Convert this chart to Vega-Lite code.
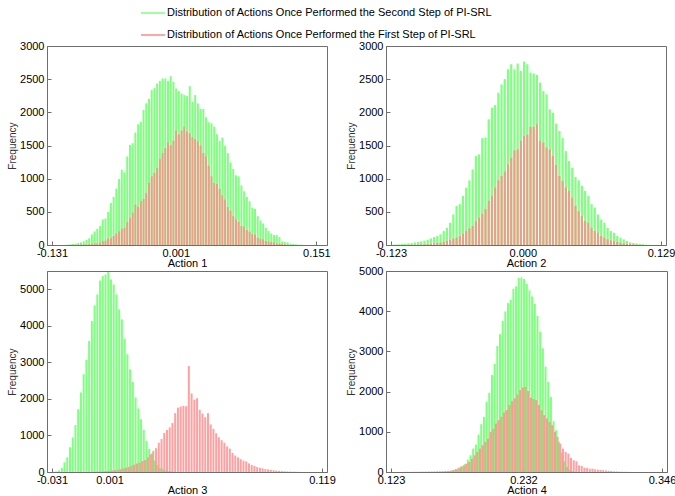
{
"$schema": "https://vega.github.io/schema/vega-lite/v6.json",
"background": "white",
"padding": {"left": 7, "top": 0, "right": 0, "bottom": 0},
"autosize": {"type": "pad"},
"datasets": {
"p1g": [{"x":-0.11456,"n":5},{"x":-0.11166,"n":10},{"x":-0.10876,"n":15},{"x":-0.10586,"n":20},{"x":-0.10296,"n":30},{"x":-0.10006,"n":40},{"x":-0.09716,"n":55},{"x":-0.09426,"n":75},{"x":-0.09136,"n":100},{"x":-0.08846,"n":160},{"x":-0.08556,"n":205},{"x":-0.08266,"n":245},{"x":-0.07976,"n":285},{"x":-0.07686,"n":385},{"x":-0.07396,"n":400},{"x":-0.07106,"n":500},{"x":-0.06816,"n":635},{"x":-0.06526,"n":725},{"x":-0.06236,"n":850},{"x":-0.05946,"n":995},{"x":-0.05656,"n":1135},{"x":-0.05366,"n":1095},{"x":-0.05076,"n":1335},{"x":-0.04786,"n":1510},{"x":-0.04496,"n":1535},{"x":-0.04206,"n":1695},{"x":-0.03916,"n":1820},{"x":-0.03626,"n":1855},{"x":-0.03336,"n":2035},{"x":-0.03046,"n":2135},{"x":-0.02756,"n":2205},{"x":-0.02466,"n":2335},{"x":-0.02176,"n":2365},{"x":-0.01886,"n":2435},{"x":-0.01596,"n":2475},{"x":-0.01306,"n":2510},{"x":-0.01016,"n":2510},{"x":-0.00726,"n":2475},{"x":-0.00436,"n":2545},{"x":-0.00146,"n":2460},{"x":0.00144,"n":2360},{"x":0.00434,"n":2320},{"x":0.00724,"n":2285},{"x":0.01014,"n":2260},{"x":0.01304,"n":2245},{"x":0.01594,"n":2395},{"x":0.01884,"n":2160},{"x":0.02174,"n":2260},{"x":0.02464,"n":2135},{"x":0.02754,"n":2050},{"x":0.03044,"n":2050},{"x":0.03334,"n":1925},{"x":0.03624,"n":1850},{"x":0.03914,"n":1835},{"x":0.04204,"n":1785},{"x":0.04494,"n":1670},{"x":0.04784,"n":1570},{"x":0.05074,"n":1620},{"x":0.05364,"n":1495},{"x":0.05654,"n":1385},{"x":0.05944,"n":1245},{"x":0.06234,"n":1145},{"x":0.06524,"n":1050},{"x":0.06814,"n":1035},{"x":0.07104,"n":900},{"x":0.07394,"n":810},{"x":0.07684,"n":725},{"x":0.07974,"n":660},{"x":0.08264,"n":560},{"x":0.08554,"n":545},{"x":0.08844,"n":435},{"x":0.09134,"n":370},{"x":0.09424,"n":325},{"x":0.09714,"n":260},{"x":0.10004,"n":210},{"x":0.10294,"n":175},{"x":0.10584,"n":150},{"x":0.10874,"n":150},{"x":0.11164,"n":120},{"x":0.11454,"n":55},{"x":0.11744,"n":45},{"x":0.12034,"n":40},{"x":0.12324,"n":20},{"x":0.12614,"n":15},{"x":0.12904,"n":10},{"x":0.13194,"n":5},{"x":0.13484,"n":5},{"x":0.13774,"n":2}],
"p1r": [{"x":-0.10586,"n":3},{"x":-0.10296,"n":5},{"x":-0.10006,"n":5},{"x":-0.09716,"n":8},{"x":-0.09426,"n":8},{"x":-0.09136,"n":10},{"x":-0.08846,"n":15},{"x":-0.08556,"n":25},{"x":-0.08266,"n":25},{"x":-0.07976,"n":35},{"x":-0.07686,"n":60},{"x":-0.07396,"n":65},{"x":-0.07106,"n":100},{"x":-0.06816,"n":105},{"x":-0.06526,"n":135},{"x":-0.06236,"n":175},{"x":-0.05946,"n":205},{"x":-0.05656,"n":245},{"x":-0.05366,"n":260},{"x":-0.05076,"n":345},{"x":-0.04786,"n":405},{"x":-0.04496,"n":485},{"x":-0.04206,"n":610},{"x":-0.03916,"n":575},{"x":-0.03626,"n":660},{"x":-0.03336,"n":695},{"x":-0.03046,"n":785},{"x":-0.02756,"n":935},{"x":-0.02466,"n":1035},{"x":-0.02176,"n":1085},{"x":-0.01886,"n":1160},{"x":-0.01596,"n":1295},{"x":-0.01306,"n":1385},{"x":-0.01016,"n":1460},{"x":-0.00726,"n":1545},{"x":-0.00436,"n":1505},{"x":-0.00146,"n":1575},{"x":0.00144,"n":1725},{"x":0.00434,"n":1665},{"x":0.00724,"n":1725},{"x":0.01014,"n":1785},{"x":0.01304,"n":1710},{"x":0.01594,"n":1685},{"x":0.01884,"n":1625},{"x":0.02174,"n":1595},{"x":0.02464,"n":1560},{"x":0.02754,"n":1500},{"x":0.03044,"n":1385},{"x":0.03334,"n":1335},{"x":0.03624,"n":1195},{"x":0.03914,"n":1035},{"x":0.04204,"n":935},{"x":0.04494,"n":920},{"x":0.04784,"n":845},{"x":0.05074,"n":750},{"x":0.05364,"n":685},{"x":0.05654,"n":570},{"x":0.05944,"n":520},{"x":0.06234,"n":435},{"x":0.06524,"n":385},{"x":0.06814,"n":350},{"x":0.07104,"n":285},{"x":0.07394,"n":275},{"x":0.07684,"n":225},{"x":0.07974,"n":200},{"x":0.08264,"n":165},{"x":0.08554,"n":155},{"x":0.08844,"n":110},{"x":0.09134,"n":95},{"x":0.09424,"n":85},{"x":0.09714,"n":60},{"x":0.10004,"n":50},{"x":0.10294,"n":45},{"x":0.10584,"n":35},{"x":0.10874,"n":25},{"x":0.11164,"n":20},{"x":0.11454,"n":15},{"x":0.11744,"n":10},{"x":0.12034,"n":5}],
"p2g": [{"x":-0.1218,"n":5},{"x":-0.1188,"n":8},{"x":-0.1158,"n":10},{"x":-0.1128,"n":15},{"x":-0.1098,"n":20},{"x":-0.1068,"n":25},{"x":-0.1038,"n":30},{"x":-0.1008,"n":40},{"x":-0.0978,"n":45},{"x":-0.0948,"n":55},{"x":-0.0918,"n":65},{"x":-0.0888,"n":80},{"x":-0.0858,"n":100},{"x":-0.0828,"n":120},{"x":-0.0798,"n":135},{"x":-0.0768,"n":160},{"x":-0.0738,"n":210},{"x":-0.0708,"n":260},{"x":-0.0678,"n":335},{"x":-0.0648,"n":460},{"x":-0.0618,"n":590},{"x":-0.0588,"n":615},{"x":-0.0558,"n":740},{"x":-0.0528,"n":865},{"x":-0.0498,"n":975},{"x":-0.0468,"n":1140},{"x":-0.0438,"n":1340},{"x":-0.0408,"n":1365},{"x":-0.0378,"n":1610},{"x":-0.0348,"n":1620},{"x":-0.0318,"n":1895},{"x":-0.0288,"n":2070},{"x":-0.0258,"n":2110},{"x":-0.0228,"n":2295},{"x":-0.0198,"n":2420},{"x":-0.0168,"n":2500},{"x":-0.0138,"n":2650},{"x":-0.0108,"n":2725},{"x":-0.0078,"n":2650},{"x":-0.0048,"n":2735},{"x":-0.0018,"n":2625},{"x":0.0012,"n":2765},{"x":0.0042,"n":2725},{"x":0.0072,"n":2600},{"x":0.0102,"n":2585},{"x":0.0132,"n":2565},{"x":0.0162,"n":2450},{"x":0.0192,"n":2320},{"x":0.0222,"n":2270},{"x":0.0252,"n":2045},{"x":0.0282,"n":1995},{"x":0.0312,"n":1830},{"x":0.0342,"n":1720},{"x":0.0372,"n":1610},{"x":0.0402,"n":1415},{"x":0.0432,"n":1265},{"x":0.0462,"n":1165},{"x":0.0492,"n":1025},{"x":0.0522,"n":975},{"x":0.0552,"n":890},{"x":0.0582,"n":815},{"x":0.0612,"n":740},{"x":0.0642,"n":615},{"x":0.0672,"n":565},{"x":0.0702,"n":460},{"x":0.0732,"n":385},{"x":0.0762,"n":335},{"x":0.0792,"n":260},{"x":0.0822,"n":210},{"x":0.0852,"n":185},{"x":0.0882,"n":135},{"x":0.0912,"n":110},{"x":0.0942,"n":85},{"x":0.0972,"n":60},{"x":0.1002,"n":40},{"x":0.1032,"n":30},{"x":0.1062,"n":25},{"x":0.1092,"n":15},{"x":0.1122,"n":10},{"x":0.1152,"n":5},{"x":0.1182,"n":3}],
"p2r": [{"x":-0.1068,"n":3},{"x":-0.1038,"n":3},{"x":-0.1008,"n":5},{"x":-0.0978,"n":5},{"x":-0.0948,"n":8},{"x":-0.0918,"n":10},{"x":-0.0888,"n":12},{"x":-0.0858,"n":15},{"x":-0.0828,"n":20},{"x":-0.0798,"n":30},{"x":-0.0768,"n":35},{"x":-0.0738,"n":45},{"x":-0.0708,"n":60},{"x":-0.0678,"n":75},{"x":-0.0648,"n":95},{"x":-0.0618,"n":110},{"x":-0.0588,"n":135},{"x":-0.0558,"n":170},{"x":-0.0528,"n":210},{"x":-0.0498,"n":250},{"x":-0.0468,"n":285},{"x":-0.0438,"n":360},{"x":-0.0408,"n":410},{"x":-0.0378,"n":470},{"x":-0.0348,"n":540},{"x":-0.0318,"n":665},{"x":-0.0288,"n":740},{"x":-0.0258,"n":865},{"x":-0.0228,"n":975},{"x":-0.0198,"n":1040},{"x":-0.0168,"n":1105},{"x":-0.0138,"n":1215},{"x":-0.0108,"n":1315},{"x":-0.0078,"n":1425},{"x":-0.0048,"n":1440},{"x":-0.0018,"n":1570},{"x":0.0012,"n":1645},{"x":0.0042,"n":1660},{"x":0.0072,"n":1780},{"x":0.0102,"n":1780},{"x":0.0132,"n":1820},{"x":0.0162,"n":1570},{"x":0.0192,"n":1545},{"x":0.0222,"n":1470},{"x":0.0252,"n":1440},{"x":0.0282,"n":1340},{"x":0.0312,"n":1205},{"x":0.0342,"n":1040},{"x":0.0372,"n":965},{"x":0.0402,"n":865},{"x":0.0432,"n":815},{"x":0.0462,"n":715},{"x":0.0492,"n":590},{"x":0.0522,"n":510},{"x":0.0552,"n":435},{"x":0.0582,"n":360},{"x":0.0612,"n":335},{"x":0.0642,"n":260},{"x":0.0672,"n":210},{"x":0.0702,"n":185},{"x":0.0732,"n":135},{"x":0.0762,"n":110},{"x":0.0792,"n":85},{"x":0.0822,"n":70},{"x":0.0852,"n":60},{"x":0.0882,"n":45},{"x":0.0912,"n":35},{"x":0.0942,"n":25},{"x":0.0972,"n":20},{"x":0.1002,"n":15},{"x":0.1032,"n":10},{"x":0.1062,"n":5},{"x":0.1092,"n":5}],
"p3g": [{"x":-0.03011,"n":9},{"x":-0.02859,"n":18},{"x":-0.02707,"n":45},{"x":-0.02555,"n":110},{"x":-0.02404,"n":265},{"x":-0.02252,"n":400},{"x":-0.021,"n":675},{"x":-0.01948,"n":945},{"x":-0.01797,"n":1285},{"x":-0.01645,"n":1720},{"x":-0.01493,"n":2175},{"x":-0.01341,"n":2675},{"x":-0.01189,"n":3065},{"x":-0.01038,"n":3585},{"x":-0.00886,"n":4130},{"x":-0.00734,"n":4560},{"x":-0.00582,"n":4860},{"x":-0.0043,"n":5240},{"x":-0.00279,"n":5360},{"x":-0.00127,"n":5405},{"x":0.00025,"n":5470},{"x":0.00177,"n":5270},{"x":0.00329,"n":5130},{"x":0.0048,"n":4860},{"x":0.00632,"n":4450},{"x":0.00784,"n":4175},{"x":0.00936,"n":3650},{"x":0.01088,"n":3220},{"x":0.01239,"n":2810},{"x":0.01391,"n":2465},{"x":0.01543,"n":2040},{"x":0.01695,"n":1740},{"x":0.01847,"n":1445},{"x":0.01998,"n":1155},{"x":0.0215,"n":855},{"x":0.02302,"n":630},{"x":0.02454,"n":510},{"x":0.02606,"n":310},{"x":0.02757,"n":190},{"x":0.02909,"n":110},{"x":0.03061,"n":75},{"x":0.03213,"n":45},{"x":0.03365,"n":27},{"x":0.03516,"n":18},{"x":0.03668,"n":9}],
"p3r": [{"x":-0.0081,"n":5},{"x":-0.00658,"n":8},{"x":-0.00506,"n":10},{"x":-0.00354,"n":15},{"x":-0.00203,"n":20},{"x":-0.00051,"n":25},{"x":0.00101,"n":35},{"x":0.00253,"n":45},{"x":0.00405,"n":55},{"x":0.00556,"n":65},{"x":0.00708,"n":80},{"x":0.0086,"n":100},{"x":0.01012,"n":120},{"x":0.01164,"n":140},{"x":0.01315,"n":175},{"x":0.01467,"n":200},{"x":0.01619,"n":230},{"x":0.01771,"n":260},{"x":0.01923,"n":300},{"x":0.02074,"n":330},{"x":0.02226,"n":400},{"x":0.02378,"n":480},{"x":0.0253,"n":580},{"x":0.02682,"n":650},{"x":0.02833,"n":800},{"x":0.02985,"n":900},{"x":0.03137,"n":1070},{"x":0.03289,"n":1150},{"x":0.03441,"n":1220},{"x":0.03592,"n":1340},{"x":0.03744,"n":1610},{"x":0.03896,"n":1760},{"x":0.04048,"n":1790},{"x":0.042,"n":1810},{"x":0.04351,"n":1800},{"x":0.04503,"n":2900},{"x":0.04655,"n":2150},{"x":0.04807,"n":1980},{"x":0.04959,"n":2020},{"x":0.0511,"n":1700},{"x":0.05262,"n":1600},{"x":0.05414,"n":1500},{"x":0.05566,"n":1610},{"x":0.05718,"n":1300},{"x":0.05869,"n":1180},{"x":0.06021,"n":1060},{"x":0.06173,"n":950},{"x":0.06325,"n":870},{"x":0.06477,"n":800},{"x":0.06628,"n":700},{"x":0.0678,"n":640},{"x":0.06932,"n":520},{"x":0.07084,"n":450},{"x":0.07236,"n":400},{"x":0.07387,"n":350},{"x":0.07539,"n":310},{"x":0.07691,"n":290},{"x":0.07843,"n":235},{"x":0.07995,"n":195},{"x":0.08146,"n":165},{"x":0.08298,"n":135},{"x":0.0845,"n":115},{"x":0.08602,"n":100},{"x":0.08754,"n":80},{"x":0.08905,"n":72},{"x":0.09057,"n":60},{"x":0.09209,"n":48},{"x":0.09361,"n":40},{"x":0.09513,"n":32},{"x":0.09664,"n":25},{"x":0.09816,"n":20},{"x":0.09968,"n":15},{"x":0.1012,"n":12},{"x":0.10272,"n":9},{"x":0.10423,"n":7},{"x":0.10575,"n":5},{"x":0.10727,"n":3},{"x":0.10879,"n":2}],
"p4g": [{"x":0.16639,"n":5},{"x":0.1686,"n":10},{"x":0.1708,"n":20},{"x":0.173,"n":35},{"x":0.17521,"n":50},{"x":0.17741,"n":65},{"x":0.17962,"n":100},{"x":0.18182,"n":140},{"x":0.18403,"n":200},{"x":0.18623,"n":308},{"x":0.18844,"n":416},{"x":0.19064,"n":582},{"x":0.19285,"n":682},{"x":0.19505,"n":932},{"x":0.19725,"n":1190},{"x":0.19946,"n":1373},{"x":0.20166,"n":1747},{"x":0.20387,"n":1972},{"x":0.20607,"n":2413},{"x":0.20828,"n":2687},{"x":0.21048,"n":3137},{"x":0.21269,"n":3428},{"x":0.21489,"n":3761},{"x":0.21709,"n":3994},{"x":0.2193,"n":4202},{"x":0.2215,"n":4285},{"x":0.22371,"n":4559},{"x":0.22591,"n":4618},{"x":0.22812,"n":4826},{"x":0.23032,"n":4842},{"x":0.23253,"n":4801},{"x":0.23473,"n":4676},{"x":0.23694,"n":4518},{"x":0.23914,"n":4368},{"x":0.24134,"n":4185},{"x":0.24355,"n":3885},{"x":0.24575,"n":3494},{"x":0.24796,"n":3078},{"x":0.25016,"n":2621},{"x":0.25237,"n":2246},{"x":0.25457,"n":1872},{"x":0.25678,"n":1265},{"x":0.25898,"n":1040},{"x":0.26118,"n":749},{"x":0.26339,"n":474},{"x":0.26559,"n":266},{"x":0.2678,"n":125},{"x":0.27,"n":58},{"x":0.27221,"n":25},{"x":0.27441,"n":10}],
"p4r": [{"x":0.13226,"n":2},{"x":0.13446,"n":3},{"x":0.13667,"n":4},{"x":0.13887,"n":4},{"x":0.14108,"n":5},{"x":0.14328,"n":6},{"x":0.14549,"n":7},{"x":0.14769,"n":8},{"x":0.1499,"n":9},{"x":0.1521,"n":10},{"x":0.1543,"n":12},{"x":0.15651,"n":14},{"x":0.15871,"n":16},{"x":0.16092,"n":18},{"x":0.16312,"n":20},{"x":0.16533,"n":22},{"x":0.16753,"n":25},{"x":0.16974,"n":28},{"x":0.17194,"n":33},{"x":0.17415,"n":50},{"x":0.17635,"n":75},{"x":0.17855,"n":108},{"x":0.18076,"n":141},{"x":0.18296,"n":166},{"x":0.18517,"n":208},{"x":0.18737,"n":250},{"x":0.18958,"n":325},{"x":0.19178,"n":416},{"x":0.19399,"n":500},{"x":0.19619,"n":582},{"x":0.19839,"n":666},{"x":0.2006,"n":749},{"x":0.2028,"n":832},{"x":0.20501,"n":998},{"x":0.20721,"n":1082},{"x":0.20942,"n":1206},{"x":0.21162,"n":1290},{"x":0.21383,"n":1373},{"x":0.21603,"n":1481},{"x":0.21823,"n":1539},{"x":0.22044,"n":1664},{"x":0.22264,"n":1764},{"x":0.22485,"n":1830},{"x":0.22705,"n":1930},{"x":0.22926,"n":2038},{"x":0.23146,"n":2105},{"x":0.23367,"n":2122},{"x":0.23587,"n":2013},{"x":0.23808,"n":1847},{"x":0.24028,"n":1814},{"x":0.24248,"n":1789},{"x":0.24469,"n":1664},{"x":0.24689,"n":1539},{"x":0.2491,"n":1414},{"x":0.2513,"n":1331},{"x":0.25351,"n":1248},{"x":0.25571,"n":1165},{"x":0.25792,"n":998},{"x":0.26012,"n":874},{"x":0.26232,"n":707},{"x":0.26453,"n":582},{"x":0.26673,"n":500},{"x":0.26894,"n":458},{"x":0.27114,"n":349},{"x":0.27335,"n":291},{"x":0.27555,"n":266},{"x":0.27776,"n":166},{"x":0.27996,"n":150},{"x":0.28217,"n":108},{"x":0.28437,"n":100},{"x":0.28657,"n":83},{"x":0.28878,"n":83},{"x":0.29098,"n":67},{"x":0.29319,"n":58},{"x":0.29539,"n":50},{"x":0.2976,"n":45},{"x":0.2998,"n":38},{"x":0.30201,"n":32},{"x":0.30421,"n":25},{"x":0.30641,"n":18},{"x":0.30862,"n":14},{"x":0.31082,"n":10},{"x":0.31303,"n":8},{"x":0.31523,"n":5},{"x":0.31744,"n":3},{"x":0.31964,"n":2}]
},
"columns": 2,
"spacing": {"row": 26, "column": 59},
"bounds": "flush",
"concat": [
{
 "width": 280, "height": 199,
 "encoding": {
  "x": {"field": "x", "type": "quantitative", "scale": {"domain": [-0.131, 0.157], "nice": false, "zero": false}, "axis": {"values": [-0.131, 0.001, 0.151], "title": "Action 1", "labelExpr": "replace(format(datum.value, '.3f'), '−', '-')"}},
  "y": {"field": "n", "type": "quantitative", "scale": {"domain": [0, 3000], "nice": false}, "axis": {"values": [0, 500, 1000, 1500, 2000, 2500, 3000], "format": "d", "title": "Frequency"}}
 },
 "layer": [
  {"data": {"name": "p1g"}, "mark": {"type": "bar", "orient": "vertical", "size": 2},
   "encoding": {"color": {"datum": "Distribution of Actions Once Performed the Second Step of PI-SRL", "type": "nominal",
     "scale": {"domain": ["Distribution of Actions Once Performed the Second Step of PI-SRL", "Distribution of Actions Once Performed the First Step of PI-SRL"], "range": ["#80ff80", "#ff8a8a"]},
     "legend": {"orient": "none", "legendX": 93, "legendY": -46, "direction": "vertical", "title": null, "symbolType": "stroke", "symbolSize": 576, "symbolStrokeWidth": 1.5, "symbolOpacity": 1, "labelFont": "Liberation Sans", "labelFontSize": 11, "labelColor": "#000", "labelLimit": 500, "labelOffset": 1, "rowPadding": 4,
       "encode": {"symbols": {"update": {"stroke": {"scale": "color", "field": "value"}, "strokeWidth": {"value": 1.5}}}}}}}},
  {"data": {"name": "p1r"}, "mark": {"type": "bar", "orient": "vertical", "size": 2, "opacity": 0.8},
   "encoding": {"color": {"datum": "Distribution of Actions Once Performed the First Step of PI-SRL", "type": "nominal"}}}
 ]
},
{
 "width": 280, "height": 199,
 "encoding": {
  "x": {"field": "x", "type": "quantitative", "scale": {"domain": [-0.123, 0.129], "nice": false, "zero": false}, "axis": {"values": [-0.123, 0.0, 0.129], "title": "Action 2", "labelExpr": "replace(format(datum.value, '.3f'), '−', '-')"}},
  "y": {"field": "n", "type": "quantitative", "scale": {"domain": [0, 3000], "nice": false}, "axis": {"values": [0, 500, 1000, 1500, 2000, 2500, 3000], "format": "d", "title": "Frequency"}}
 },
 "layer": [
  {"data": {"name": "p2g"}, "mark": {"type": "bar", "orient": "vertical", "size": 2.2},
   "encoding": {"color": {"datum": "Distribution of Actions Once Performed the Second Step of PI-SRL", "type": "nominal"}}},
  {"data": {"name": "p2r"}, "mark": {"type": "bar", "orient": "vertical", "size": 2.2, "opacity": 0.8},
   "encoding": {"color": {"datum": "Distribution of Actions Once Performed the First Step of PI-SRL", "type": "nominal"}}}
 ]
},
{
 "width": 280, "height": 201,
 "encoding": {
  "x": {"field": "x", "type": "quantitative", "scale": {"domain": [-0.031, 0.119], "nice": false, "zero": false}, "axis": {"values": [-0.031, 0.001, 0.119], "title": "Action 3", "labelExpr": "replace(format(datum.value, '.3f'), '−', '-')"}},
  "y": {"field": "n", "type": "quantitative", "scale": {"domain": [0, 5500], "nice": false}, "axis": {"values": [0, 1000, 2000, 3000, 4000, 5000], "format": "d", "title": "Frequency"}}
 },
 "layer": [
  {"data": {"name": "p3g"}, "mark": {"type": "bar", "orient": "vertical", "size": 2},
   "encoding": {"color": {"datum": "Distribution of Actions Once Performed the Second Step of PI-SRL", "type": "nominal"}}},
  {"data": {"name": "p3r"}, "mark": {"type": "bar", "orient": "vertical", "size": 2, "opacity": 0.8},
   "encoding": {"color": {"datum": "Distribution of Actions Once Performed the First Step of PI-SRL", "type": "nominal"}}}
 ]
},
{
 "width": 281, "height": 201,
 "encoding": {
  "x": {"field": "x", "type": "quantitative", "scale": {"domain": [0.123, 0.346], "nice": false, "zero": false}, "axis": {"values": [0.123, 0.232, 0.346], "title": "Action 4", "labelExpr": "replace(format(datum.value, '.3f'), '−', '-')"}},
  "y": {"field": "n", "type": "quantitative", "scale": {"domain": [0, 5000], "nice": false}, "axis": {"values": [0, 1000, 2000, 3000, 4000, 5000], "format": "d", "title": "Frequency"}}
 },
 "layer": [
  {"data": {"name": "p4g"}, "mark": {"type": "bar", "orient": "vertical", "size": 2},
   "encoding": {"color": {"datum": "Distribution of Actions Once Performed the Second Step of PI-SRL", "type": "nominal"}}},
  {"data": {"name": "p4r"}, "mark": {"type": "bar", "orient": "vertical", "size": 2, "opacity": 0.8},
   "encoding": {"color": {"datum": "Distribution of Actions Once Performed the First Step of PI-SRL", "type": "nominal"}}}
 ]
}
],
"config": {
 "font": "Liberation Sans",
 "view": {"stroke": "#6e6e6e", "strokeWidth": 1},
 "axis": {"labelFont": "Liberation Sans", "labelFontSize": 11, "labelColor": "#000", "titleFont": "Liberation Sans", "titleFontSize": 11, "titleFontWeight": "normal", "titleColor": "#000", "domainColor": "#6e6e6e", "tickColor": "#6e6e6e", "grid": false, "tickSize": -4, "labelPadding": 7, "labelOverlap": false, "labelFlush": false},
 "axisX": {"titlePadding": -1, "labelPadding": 6},
 "axisY": {"titleFontSize": 10, "titleColor": "#333", "titlePadding": 2}
}
}
